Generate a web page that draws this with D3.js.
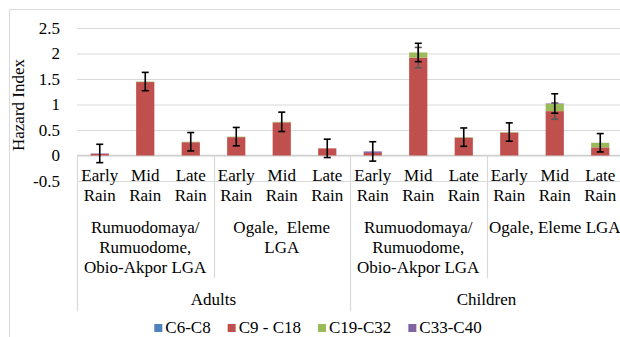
<!DOCTYPE html>
<html>
<head>
<meta charset="utf-8">
<script src="https://cdnjs.cloudflare.com/ajax/libs/d3/7.8.5/d3.min.js"></script>
<style>
  body { margin: 0; background: #fff; }
  svg text { font-family: "Liberation Serif", "DejaVu Serif", serif !important; fill: #000; }
</style>
</head>
<body>
<div id="chart"></div>
<script>
// rain period for each bar, then the location and age group they belong to
const periods = ['Early Rain', 'Mid Rain', 'Late Rain', 'Early Rain', 'Mid Rain', 'Late Rain',
  'Early Rain', 'Mid Rain', 'Late Rain', 'Early Rain', 'Mid Rain', 'Late Rain'];
const locations = [['Rumuodomaya/', 'Rumuodome,', 'Obio-Akpor LGA'], ['Ogale,  Eleme', 'LGA'],
  ['Rumuodomaya/', 'Rumuodome,', 'Obio-Akpor LGA'], ['Ogale, Eleme LGA']];
const groups = ['Adults', 'Children'];

const seriesNames = ['C6-C8', 'C9 - C18', 'C19-C32', 'C33-C40'];
const c6c8 = [0, 0, 0, 0, 0, 0, 0, 0, 0, 0, 0, 0];
const c9c18 = [0.03, 1.44, 0.26, 0.36, 0.65, 0.14, 0.05, 1.92, 0.35, 0.45, 0.87, 0.16];
const c19c32 = [0, 0.01, 0.01, 0.01, 0.01, 0, 0, 0.10, 0.01, 0.01, 0.14, 0.09];
const c33c40 = [0.01, 0, 0, 0, 0, 0, 0.03, 0, 0, 0, 0.01, 0];
// error bars: black ones on the stack top, grey ones on the C9-C18 top
const errTop = [0.18, 0.18, 0.18, 0.18, 0.19, 0.18, 0.19, 0.18, 0.18, 0.18, 0.19, 0.18];
const errC9 = [0, 0, 0, 0, 0, 0, 0, 0.2, 0, 0, 0.16, 0];

const yTicks = [-0.5, 0, 0.5, 1, 1.5, 2, 2.5];
const colors = ['#4F81BD', '#C0504D', '#9BBB59', '#8064A2'];

const W = 620, H = 337;
const margin = { left: 77, right: 623, top: 28, bottom: 181 };
const FS = 17;
const FONT = '"Liberation Serif", "DejaVu Serif", serif';

const svg = d3.select('#chart').append('svg')
  .attr('width', W).attr('height', H)
  .attr('font-family', FONT);

// outer chart border
svg.append('rect')
  .attr('x', 9.5).attr('y', 9.5)
  .attr('width', W + 10).attr('height', H + 10)
  .attr('fill', 'none').attr('stroke', '#D9D9D9');

const rows = periods.map((p, i) => ({
  i: i, 'C6-C8': c6c8[i], 'C9 - C18': c9c18[i], 'C19-C32': c19c32[i], 'C33-C40': c33c40[i]
}));

const x = d3.scaleBand().domain(d3.range(periods.length))
  .range([margin.left, margin.right]).paddingInner(0.6).paddingOuter(0.3);
const y = d3.scaleLinear().domain([-0.5, 2.5]).range([margin.bottom, margin.top]);

// gridlines + y labels
const yAxis = svg.append('g')
  .attr('transform', 'translate(' + margin.left + ',0)')
  .call(d3.axisLeft(y).tickValues(yTicks).tickFormat(d => String(d))
    .tickSizeInner(-(margin.right - margin.left)).tickSizeOuter(0).tickPadding(17));
yAxis.attr('font-family', FONT).attr('font-size', FS);
yAxis.select('.domain').remove();
yAxis.selectAll('.tick line').attr('stroke', '#D9D9D9').attr('stroke-width', 1);

// category axis line at zero
svg.append('line')
  .attr('x1', margin.left).attr('x2', margin.right)
  .attr('y1', y(0)).attr('y2', y(0))
  .attr('stroke', '#D0D0D0').attr('stroke-width', 1.5);

// stacked bars
const stack = d3.stack().keys(seriesNames)(rows);
svg.append('g').selectAll('g')
  .data(stack).enter().append('g')
  .attr('fill', (d, i) => colors[i])
  .selectAll('rect')
  .data(d => d).enter().append('rect')
  .attr('x', d => x(d.data.i))
  .attr('width', x.bandwidth())
  .attr('y', d => y(d[1]))
  .attr('height', d => Math.max(0, y(d[0]) - y(d[1])));

// error bars
function errorBar(g, cx, val, err, color) {
  const cap = 3.5;
  const top = y(val + err), bot = y(val - err);
  g.append('line').attr('x1', cx).attr('x2', cx).attr('y1', top).attr('y2', bot);
  g.append('line').attr('x1', cx - cap).attr('x2', cx + cap).attr('y1', top).attr('y2', top);
  g.append('line').attr('x1', cx - cap).attr('x2', cx + cap).attr('y1', bot).attr('y2', bot);
  g.attr('stroke', color).attr('stroke-width', 1.6);
}
periods.forEach((p, i) => {
  const cx = x(i) + x.bandwidth() / 2;
  if (errC9[i] > 0) errorBar(svg.append('g'), cx, c6c8[i] + c9c18[i], errC9[i], '#595959');
  const total = c6c8[i] + c9c18[i] + c19c32[i] + c33c40[i];
  errorBar(svg.append('g'), cx, total, errTop[i], '#000');
});

// category labels (period)
const xAxis = svg.append('g')
  .attr('transform', 'translate(0,' + y(0) + ')')
  .call(d3.axisBottom(x).tickSize(0).tickFormat(''));
xAxis.attr('font-family', FONT);
xAxis.select('.domain').remove();
xAxis.selectAll('.tick').each(function (d) {
  const words = periods[d].split(' ');
  const t = d3.select(this).append('text')
    .attr('font-size', FS).attr('text-anchor', 'middle');
  words.forEach((w, k) => {
    t.append('tspan').attr('x', 0).attr('y', 25 + k * 20).text(w);
  });
});

// location labels + separators
const step = x.step();
const locW = step * 3;
locations.forEach((lines, j) => {
  const x0 = margin.left + j * locW;
  const t = svg.append('text')
    .attr('font-size', FS).attr('text-anchor', 'middle')
    .style('white-space', 'pre');
  lines.forEach((l, k) => {
    t.append('tspan').attr('x', x0 + locW / 2).attr('y', 233 + k * 20).text(l);
  });
});
d3.range(locations.length + 1).forEach(j => {
  const xx = Math.round(margin.left + j * locW) + 0.5;
  const full = j % 2 === 0;
  svg.append('line')
    .attr('x1', xx).attr('x2', xx)
    .attr('y1', y(0)).attr('y2', full ? 311 : 278)
    .attr('stroke', '#D9D9D9').attr('stroke-width', 1.2);
});

// age group labels
groups.forEach((g, j) => {
  svg.append('text')
    .attr('x', margin.left + j * locW * 2 + locW)
    .attr('y', 305)
    .attr('font-size', FS).attr('text-anchor', 'middle')
    .text(g);
});

// y title
svg.append('text')
  .attr('transform', 'translate(24,105) rotate(-90)')
  .attr('font-size', FS).attr('text-anchor', 'middle')
  .text('Hazard Index');

// legend
const legend = svg.append('g');
let lx = 0;
seriesNames.forEach((s, i) => {
  const item = legend.append('g').attr('transform', 'translate(' + lx + ',0)');
  item.append('rect').attr('x', 0).attr('y', 324).attr('width', 8).attr('height', 8).attr('fill', colors[i]);
  const t = item.append('text').attr('x', 11).attr('y', 333).attr('font-size', FS).text(s);
  lx += 11 + t.node().getComputedTextLength() + 17;
});
legend.attr('transform', 'translate(' + (318 - (lx - 17) / 2) + ',0)');
</script>
</body>
</html>
